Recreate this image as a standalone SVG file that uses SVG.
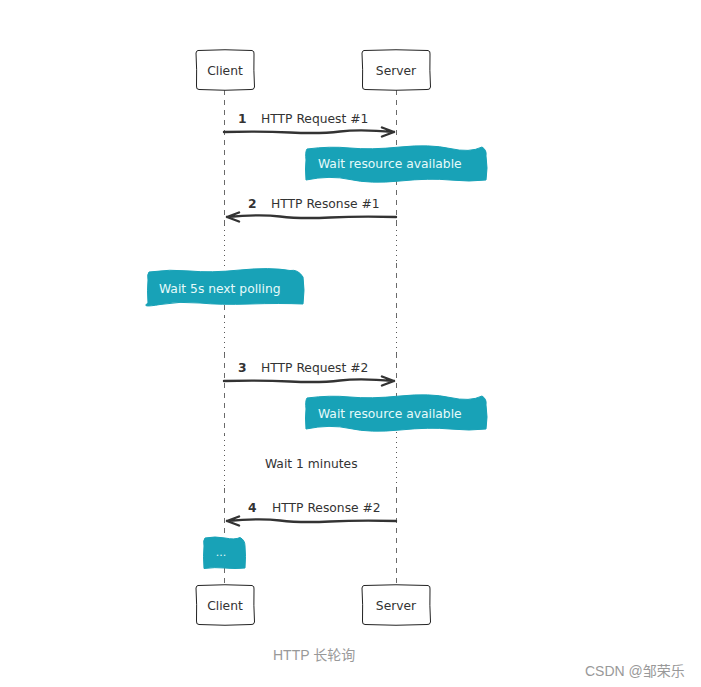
<svg xmlns="http://www.w3.org/2000/svg" width="701" height="687" viewBox="0 0 701 687">
<style>
.t{font-family:"DejaVu Sans","Liberation Sans",sans-serif;font-size:12.3px;fill:#333}
.b{font-weight:bold}
.nt{font-family:"DejaVu Sans","Liberation Sans",sans-serif;font-size:12.3px;fill:#e6fafa}
.box{fill:#fff;stroke:#222;stroke-width:1}
.note{fill:#18a2b7;stroke:#18a2b7;stroke-width:1}
.dash{stroke:#444;stroke-width:0.8;stroke-dasharray:5,5;fill:none}
.dot{stroke:#444;stroke-width:0.9;stroke-dasharray:1,4;fill:none}
.arr{stroke:#333;stroke-width:2.4;fill:none;stroke-linecap:round}
.cap{font-family:"Liberation Sans","Noto Sans CJK SC",sans-serif;font-size:14px;fill:#999}
</style>
<rect width="701" height="687" fill="#fff"/>
<g id="lifelines">
<path class="dash" d="M224.5 90V225M396.5 90V225"/>
<path class="dot" d="M224.5 225V270M396.5 225V263"/>
<path class="dash" d="M224.5 305V317M396.5 263V317"/>
<path class="dot" d="M224.5 317V353M396.5 317V353"/>
<path class="dash" d="M224.5 353V435M396.5 353V432"/>
<path class="dot" d="M224.5 435V488M396.5 432V488"/>
<path class="dash" d="M224.5 488V585M396.5 488V585"/>
</g>
<g id="client-top">
<path class="box" d="M198 50.5Q225 49 252 50.5Q254.5 51 254 54Q253.5 70 254.5 87Q254 90 251 89.5Q225 91 199 89.5Q196 89.5 196.5 86Q197 70 196 53Q196.5 50.5 198 50.5Z"/>
<text class="t" x="225" y="75" text-anchor="middle">Client</text>
</g>
<g id="server-top">
<path class="box" d="M364 50.5Q396 49 428 50.5Q430.5 51 430 54Q429.5 70 430.5 87Q430 90 427 89.5Q396 91 365 89.5Q362 89.5 362.5 86Q363 70 362 53Q362.5 50.5 364 50.5Z"/>
<text class="t" x="396" y="75" text-anchor="middle">Server</text>
</g>
<g id="client-bottom">
<path class="box" d="M198 585.5Q225 584 252 585.5Q254.5 586 254 589Q253.5 605 254.5 622Q254 625 251 624.5Q225 626 199 624.5Q196 624.5 196.5 621Q197 605 196 588Q196.5 585.5 198 585.5Z"/>
<text class="t" x="225" y="610" text-anchor="middle">Client</text>
</g>
<g id="server-bottom">
<path class="box" d="M364 585.5Q396 584 428 585.5Q430.5 586 430 589Q429.5 605 430.5 622Q430 625 427 624.5Q396 626 365 624.5Q362 624.5 362.5 621Q363 605 362 588Q362.5 585.5 364 585.5Z"/>
<text class="t" x="396" y="610" text-anchor="middle">Server</text>
</g>
<g id="connectors">
<path class="arr" d="M224 132Q260 131 290 132.5T340 131.5T394 132M394 132L382 127.5M394 132L382 136.5"/>
<path class="arr" d="M396 217Q360 216 330 217.5T280 216.5T227 217M227 217L239 212.5M227 217L239 221.5"/>
<path class="arr" d="M224 381Q260 380 290 381.5T340 380.5T394 381M394 381L382 376.5M394 381L382 385.5"/>
<path class="arr" d="M396 521Q360 520 330 521.5T280 520.5T227 521M227 521L239 516.5M227 521L239 525.5"/>
</g>
<g id="labels">
<text class="t b" x="238" y="123">1</text>
<text class="t" x="261" y="123">HTTP Request #1</text>
<text class="t b" x="248" y="208">2</text>
<text class="t" x="271" y="208">HTTP Resonse #1</text>
<text class="t b" x="238" y="372">3</text>
<text class="t" x="261" y="372">HTTP Request #2</text>
<text class="t b" x="248" y="512">4</text>
<text class="t" x="272" y="512">HTTP Resonse #2</text>
<text class="t" x="265" y="468">Wait 1 minutes</text>
</g>
<g id="note1">
<path class="note" d="M307 149Q330 146 350 148T400 147T450 148.5T482 147Q487 150 486 156Q488 168 486 180Q470 182 450 180T400 181T350 179.5T306 180Q305 168 306 160Q305 152 307 149Z"/>
<text class="nt" x="318" y="168">Wait resource available</text>
</g>
<g id="note2">
<path class="note" d="M149 272Q170 269 190 271T240 270T290 270.5Q298 269 303 277Q305 290 303 304Q280 303 250 304T200 303T160 304.5T148 303Q147 290 148 280Q147 274 149 272Z"/>
<text class="nt" x="159" y="293">Wait 5s next polling</text>
</g>
<g id="note3">
<path class="note" d="M307 398Q330 395 350 397T400 396T450 397.5T482 396Q487 399 486 405Q488 417 486 429Q470 431 450 429T400 430T350 428.5T306 429Q305 417 306 409Q305 401 307 398Z"/>
<text class="nt" x="318" y="418">Wait resource available</text>
</g>
<g id="note4">
<path class="note" d="M205 538Q215 536 225 538T240 537.5Q245 540 245 546Q246 556 245 568Q235 569 225 568T204 568.5Q203 556 204 546Q203 540 205 538Z"/>
<text class="nt" x="221" y="556" text-anchor="middle" style="font-size:11px">...</text>
</g>
<text class="cap" x="273" y="660">HTTP 长轮询</text>
<text class="cap" x="585" y="676">CSDN @邹荣乐</text>
</svg>
